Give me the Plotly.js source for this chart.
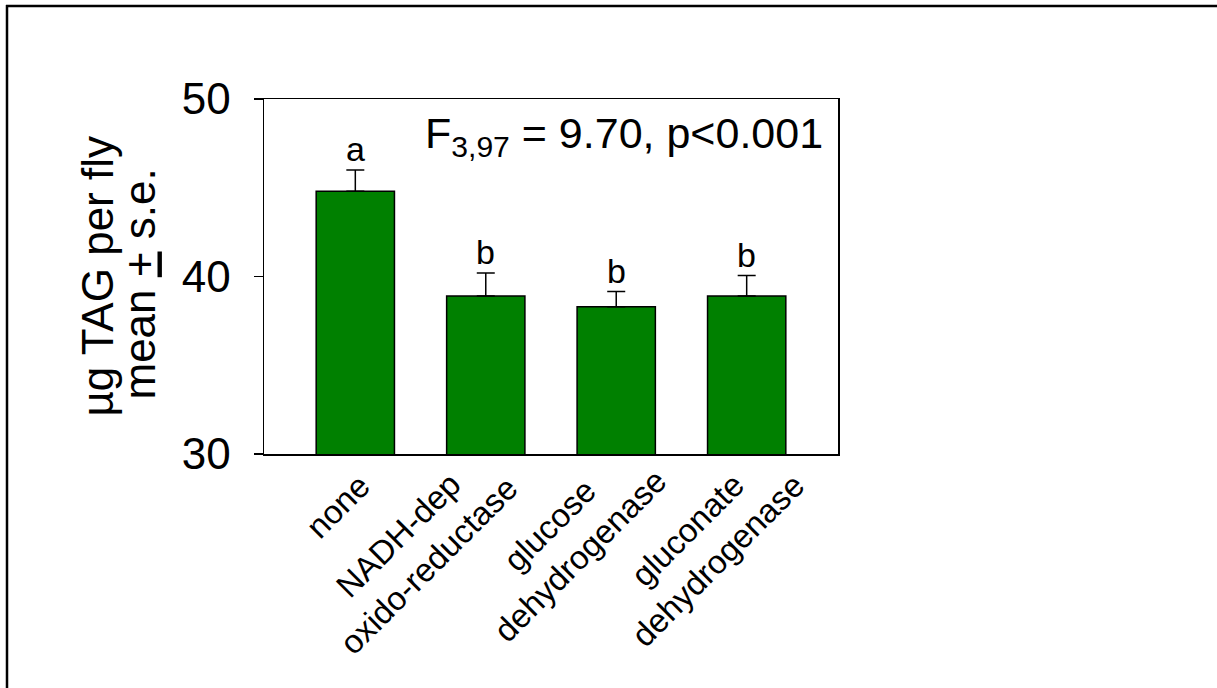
<!DOCTYPE html>
<html>
<head>
<meta charset="utf-8">
<script src="https://cdn.plot.ly/plotly-3.0.1.min.js"></script>
<style>
  html, body { margin: 0; padding: 0; background: #fff; }
  #chart { width: 1217px; height: 688px; }
</style>
</head>
<body>
<div id="chart"></div>
<script>
// ---- data ----
const categories = ['none', 'NADH-dep oxido-reductase', 'glucose dehydrogenase', 'gluconate dehydrogenase'];
const tickLabels = ['none', 'NADH-dep<br>oxido-reductase', 'glucose<br>dehydrogenase', 'gluconate<br>dehydrogenase'];
const means = [44.8, 38.9, 38.3, 38.9];
const stdErr = [1.2, 1.3, 0.85, 1.15];
const groupLetters = ['a', 'b', 'b', 'b'];
const yTickValues = [30, 40, 50];
const statText = 'F<sub>3,97</sub> = 9.70, p&lt;0.001';
const yTitleLines = ['\u00b5g TAG per fly', 'mean <span style="text-decoration:underline">+</span> s.e.'];

// ---- layout constants ----
const W = 1217, H = 688;
const M = { l: 264, r: 379, t: 99, b: 234 };
const plotW = W - M.l - M.r, plotH = H - M.t - M.b;
const FONT = 'Liberation Sans, Arial, Helvetica, sans-serif';
// offsets (px) of each rotated category label centre from its bar centre / the x axis line
const labelOffsets = [[-18, 52], [-72, 96], [-51, 86], [-44, 91]];
const xIdx = categories.map((c, i) => i);

const trace = {
  type: 'bar',
  x: xIdx,
  y: means,
  marker: { color: '#008000', line: { color: '#000000', width: 1.5 } },
  error_y: {
    type: 'data', symmetric: false,
    array: stdErr, arrayminus: stdErr.map(() => 0),
    color: '#000000', thickness: 1.5, width: 9
  },
  hoverinfo: 'none'
};

const annotations = [];
// group letters above error bars
xIdx.forEach((i) => {
  annotations.push({
    xref: 'x', yref: 'y', x: i, y: means[i] + stdErr[i],
    text: groupLetters[i], showarrow: false,
    xanchor: 'center', yanchor: 'bottom', yshift: 0,
    font: { family: FONT, size: 34, color: '#000' }
  });
});
// rotated category labels
xIdx.forEach((i) => {
  annotations.push({
    xref: 'x', yref: 'paper', x: i, y: 0,
    text: tickLabels[i], showarrow: false, textangle: -45, align: 'center',
    xanchor: 'center', yanchor: 'middle',
    xshift: labelOffsets[i][0], yshift: -labelOffsets[i][1],
    font: { family: FONT, size: 33, color: '#000' }
  });
});
// statistic text
annotations.push({
  xref: 'paper', yref: 'paper', x: 1, y: 1,
  xanchor: 'right', yanchor: 'top', xshift: -13, yshift: -8,
  text: statText, showarrow: false,
  font: { family: FONT, size: 43, color: '#000' }
});
// y title (two lines)
const yTitlePos = [[97 - M.l, 0], [139 - M.l, -8]];
yTitleLines.forEach((t, k) => {
  annotations.push({
    xref: 'paper', yref: 'paper', x: 0, y: 0.5,
    xshift: yTitlePos[k][0], yshift: yTitlePos[k][1],
    text: t, showarrow: false, textangle: -90,
    xanchor: 'center', yanchor: 'middle',
    font: { family: FONT, size: 44, color: '#000' }
  });
});

// frame lines (top and left) in paper coordinates
const px2x = (px) => (px - M.l) / plotW;
const py2y = (py) => 1 - (py - M.t) / plotH;
const shapes = [
  { type: 'line', xref: 'paper', yref: 'paper', x0: px2x(6), x1: px2x(W + 5), y0: py2y(6), y1: py2y(6), line: { color: '#000', width: 2.5 } },
  { type: 'line', xref: 'paper', yref: 'paper', x0: px2x(7), x1: px2x(7), y0: py2y(5), y1: py2y(H + 5), line: { color: '#000', width: 2.5 } }
];

const layout = {
  width: W, height: H,
  margin: M,
  paper_bgcolor: '#ffffff', plot_bgcolor: '#ffffff',
  showlegend: false,
  bargap: 0.4,
  font: { family: FONT, color: '#000' },
  xaxis: {
    range: [-0.70, 3.70], showticklabels: false, ticks: '',
    showgrid: false, zeroline: false,
    showline: true, linecolor: '#000', linewidth: 1.5, mirror: true,
    fixedrange: true
  },
  yaxis: {
    range: [30, 50], tickmode: 'array', tickvals: yTickValues, ticktext: yTickValues.map(String),
    ticks: 'outside', ticklen: 9, tickwidth: 1.5, tickcolor: '#000',
    ticklabelstandoff: 14,
    tickfont: { family: FONT, size: 44, color: '#000' },
    showgrid: false, zeroline: false,
    showline: true, linecolor: '#000', linewidth: 1.5, mirror: true,
    fixedrange: true
  },
  annotations: annotations,
  shapes: shapes
};

Plotly.newPlot('chart', [trace], layout, { staticPlot: true, displayModeBar: false });
</script>
</body>
</html>
